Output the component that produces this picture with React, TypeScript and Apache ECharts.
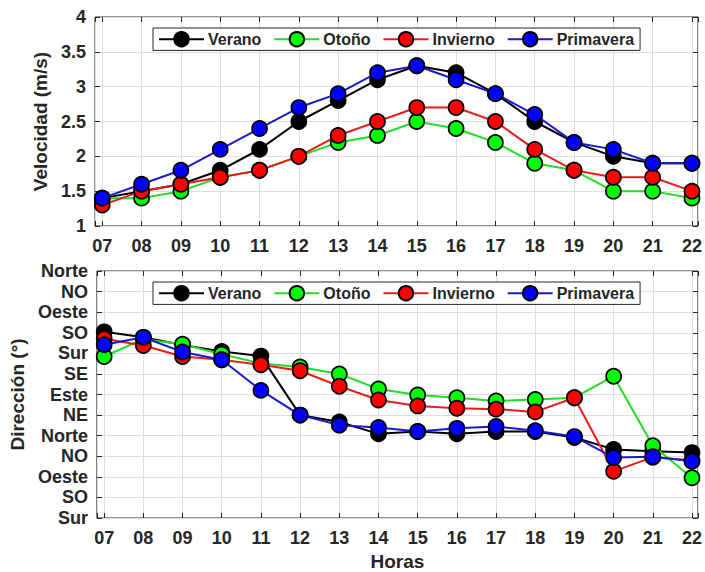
import React, { useEffect, useRef } from "react";
import * as echarts from "echarts";

const hours = [7, 8, 9, 10, 11, 12, 13, 14, 15, 16, 17, 18, 19, 20, 21, 22];
const seasons = ["Verano", "Otoño", "Invierno", "Primavera"];

// Velocidad (m/s)
const velVerano = [1.4, 1.5, 1.6, 1.8, 2.1, 2.5, 2.8, 3.1, 3.3, 3.2, 2.9, 2.5, 2.2, 2.0, 1.9, 1.9];
const velOtono = [1.4, 1.4, 1.5, 1.7, 1.8, 2.0, 2.2, 2.3, 2.5, 2.4, 2.2, 1.9, 1.8, 1.5, 1.5, 1.4];
const velInvierno = [1.3, 1.5, 1.6, 1.7, 1.8, 2.0, 2.3, 2.5, 2.7, 2.7, 2.5, 2.1, 1.8, 1.7, 1.7, 1.5];
const velPrimavera = [1.4, 1.6, 1.8, 2.1, 2.4, 2.7, 2.9, 3.2, 3.3, 3.1, 2.9, 2.6, 2.2, 2.1, 1.9, 1.9];

// Dirección (°), unwrapped: 180 = Sur ... 720 = Norte
const dirVerano = [587, 575, 558, 544, 534, 405, 390, 364, 369, 364, 369, 369, 356, 330, 326, 323];
const dirOtono = [533, 571, 560, 538, 518, 510, 495, 462, 449, 443, 436, 439, 443, 490, 338, 268];
const dirInvierno = [572, 557, 533, 526, 515, 502, 468, 438, 425, 420, 418, 412, 443, 282, 313, 306];
const dirPrimavera = [559, 575, 543, 526, 459, 405, 383, 378, 369, 376, 380, 371, 358, 312, 314, 304];

const dirLabels = ["Sur", "SO", "Oeste", "NO", "Norte", "NE", "Este", "SE", "Sur", "SO", "Oeste", "NO", "Norte"];

const lineColors = ["#000000", "#22dd22", "#e81c1c", "#1a1acc"];
const markerColors = ["#000000", "#00ff00", "#ff0000", "#0000ff"];

const TXT = "#262626";
const FONT = "Liberation Sans, Arial, sans-serif";

export default function App() {
  const ref = useRef<HTMLDivElement>(null);
  useEffect(() => {
    if (!ref.current) return;
    const chart = echarts.init(ref.current, null, { renderer: "svg" });
    const velData = [velVerano, velOtono, velInvierno, velPrimavera];
    const dirData = [dirVerano, dirOtono, dirInvierno, dirPrimavera];
    const XMIN = 6.815;
    const XMAX = 22.152;
    const xFmt = (v: number) => (Math.abs(v - Math.round(v)) < 1e-6 ? String(Math.round(v)).padStart(2, "0") : "");
    const tickStyle = { show: true, inside: true, length: 5, lineStyle: { color: TXT, width: 1 } };
    const split = { show: true, lineStyle: { color: "#dedede", width: 1 } };
    const labelStyle = { color: TXT, fontSize: 18, fontWeight: "bold" as const, fontFamily: FONT };

    const mkX = (gridIndex: number, top: boolean, withName: boolean) => ({
      type: "value",
      gridIndex,
      position: top ? "top" : "bottom",
      min: XMIN,
      max: XMAX,
      minInterval: 1,
      maxInterval: 1,
      axisLine: { show: false },
      axisTick: tickStyle,
      splitLine: top ? { show: false } : split,
      axisLabel: top ? { show: false } : { ...labelStyle, margin: 11, formatter: xFmt },
      name: withName ? "Horas" : "",
      nameLocation: "middle",
      nameGap: 34,
      nameTextStyle: { color: TXT, fontSize: 19, fontWeight: "bold", fontFamily: FONT },
    });

    const series: any[] = [];
    seasons.forEach((name, i) => {
      const common = {
        name,
        type: "line",
        symbol: "circle",
        symbolSize: 15,
        lineStyle: { color: lineColors[i], width: 2 },
        itemStyle: { color: markerColors[i], borderColor: "#000", borderWidth: 1.7 },
        z: 2 + i,
      };
      series.push({ ...common, xAxisIndex: 0, yAxisIndex: 0, data: hours.map((h, k) => [h, velData[i][k]]) });
      series.push({ ...common, xAxisIndex: 2, yAxisIndex: 2, data: hours.map((h, k) => [h, dirData[i][k]]) });
    });

    const mkLegend = (top: number) => ({
      show: true,
      data: seasons,
      left: 153,
      top,
      orient: "horizontal",
      itemWidth: 45,
      itemHeight: 18,
      itemGap: 12,
      padding: [3, 6, 3, 5],
      borderColor: TXT,
      borderWidth: 1,
      backgroundColor: "#ffffff",
      selectedMode: false,
      textStyle: { color: TXT, fontSize: 16, fontWeight: "bold", fontFamily: FONT, padding: [0, 0, 0, -1] },
    });

    chart.setOption({
      animation: false,
      backgroundColor: "#ffffff",
      grid: [
        { left: 95, top: 17, width: 606, height: 209, show: true, borderColor: TXT, borderWidth: 1, backgroundColor: "#fff" },
        { left: 95, top: 271, width: 606, height: 248, show: true, borderColor: TXT, borderWidth: 1, backgroundColor: "#fff" },
      ],
      legend: [mkLegend(28), mkLegend(282)],
      xAxis: [mkX(0, false, false), mkX(0, true, false), mkX(1, false, true), mkX(1, true, false)],
      yAxis: [
        {
          type: "value", gridIndex: 0, position: "left", min: 1, max: 4, interval: 0.5,
          axisLine: { show: false }, axisTick: tickStyle, splitLine: split,
          axisLabel: { ...labelStyle, margin: 9 },
          name: "Velocidad (m/s)", nameLocation: "middle", nameGap: 40,
          nameTextStyle: { color: TXT, fontSize: 19, fontWeight: "bold", fontFamily: FONT },
        },
        {
          type: "value", gridIndex: 0, position: "right", min: 1, max: 4, interval: 0.5,
          axisLine: { show: false }, axisTick: tickStyle, splitLine: { show: false }, axisLabel: { show: false },
        },
        {
          type: "value", gridIndex: 1, position: "left", min: 180, max: 720, interval: 45,
          axisLine: { show: false }, axisTick: tickStyle, splitLine: split,
          axisLabel: { ...labelStyle, margin: 9, formatter: (v: number) => dirLabels[Math.round((v - 180) / 45)] ?? "" },
          name: "Dirección (°)", nameLocation: "middle", nameGap: 62,
          nameTextStyle: { color: TXT, fontSize: 19, fontWeight: "bold", fontFamily: FONT },
        },
        {
          type: "value", gridIndex: 1, position: "right", min: 180, max: 720, interval: 45,
          axisLine: { show: false }, axisTick: tickStyle, splitLine: { show: false }, axisLabel: { show: false },
        },
      ],
      series,
    });
    return () => chart.dispose();
  }, []);
  return <div ref={ref} style={{ width: 705, height: 572, position: "absolute", left: 0, top: 0 }} />;
}
